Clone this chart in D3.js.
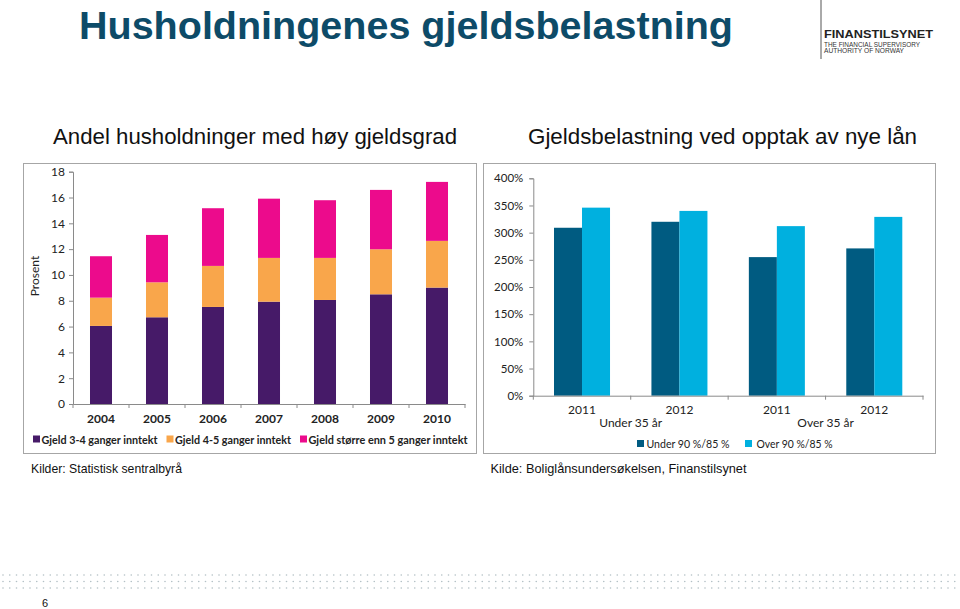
<!DOCTYPE html>
<html><head><meta charset="utf-8">
<script src="https://cdn.jsdelivr.net/npm/d3@7"></script>
<style>
html,body{margin:0;padding:0;background:#fff;}
svg{display:block;}
</style></head>
<body>
<svg id="chart" width="960" height="609"></svg>
<script>
// ---------- DATA ----------
const years = ["2004","2005","2006","2007","2008","2009","2010"];
const gjeld34 = [6.05, 6.72, 7.52, 7.93, 8.06, 8.5, 9.02];
const gjeld45 = [2.19, 2.71, 3.18, 3.39, 3.26, 3.49, 3.62];
const gjeld5p = [3.21, 3.67, 4.47, 4.59, 4.47, 4.6, 4.57];
const leftSeries = ["Gjeld 3-4 ganger inntekt","Gjeld 4-5 ganger inntekt","Gjeld større enn 5 ganger inntekt"];
const leftTicks = [0,2,4,6,8,10,12,14,16,18];

const rightCats = ["U2011","U2012","O2011","O2012"];
const rightYearLabels = ["2011","2012","2011","2012"];
const rightGroups = ["Under 35 år","Over 35 år"];
const under9085 = [309, 320, 255, 271];
const over9085 = [346, 340, 312, 329];
const rightSeries = ["Under 90 %/85 %","Over 90 %/85 %"];
const rightTicks = [0,50,100,150,200,250,300,350,400];

// ---------- SETUP ----------
const svg = d3.select("#chart");
const FONT = "Lato, 'Open Sans', sans-serif";
const ARIAL = "'Liberation Sans', Arial, sans-serif";
const axisCol = "#8a8a8a";
const leftColors = ["#461a68","#f9a64b","#ec0b8c"];
const rightColors = ["#005b81","#00b0df"];

// Title
svg.append("text").attr("x",79).attr("y",39).attr("font-family",ARIAL).attr("font-weight","bold")
  .attr("font-size",38).attr("fill","#0d4b68").attr("textLength",654).attr("lengthAdjust","spacingAndGlyphs")
  .text("Husholdningenes gjeldsbelastning");

// Logo
svg.append("line").attr("x1",821).attr("x2",821).attr("y1",0).attr("y2",59).attr("stroke","#555").attr("stroke-width",1);
svg.append("text").attr("x",824).attr("y",38).attr("font-family",ARIAL).attr("font-weight","bold").attr("font-size",10)
  .attr("fill","#222").attr("textLength",109).attr("lengthAdjust","spacingAndGlyphs").text("FINANSTILSYNET");
svg.append("text").attr("x",824).attr("y",46.5).attr("font-family",ARIAL).attr("font-size",6.6)
  .attr("fill","#333").attr("textLength",96).attr("lengthAdjust","spacingAndGlyphs").text("THE FINANCIAL SUPERVISORY");
svg.append("text").attr("x",824).attr("y",53).attr("font-family",ARIAL).attr("font-size",6.6)
  .attr("fill","#333").attr("textLength",80).attr("lengthAdjust","spacingAndGlyphs").text("AUTHORITY OF NORWAY");

// Subtitles
svg.append("text").attr("x",53).attr("y",143.5).attr("font-family",ARIAL)
  .attr("font-size",22).attr("fill","#111").attr("textLength",404).attr("lengthAdjust","spacingAndGlyphs")
  .text("Andel husholdninger med høy gjeldsgrad");
svg.append("text").attr("x",528).attr("y",143.5).attr("font-family",ARIAL)
  .attr("font-size",22).attr("fill","#111").attr("textLength",389).attr("lengthAdjust","spacingAndGlyphs")
  .text("Gjeldsbelastning ved opptak av nye lån");

// Frames
svg.append("rect").attr("x",23.5).attr("y",163.5).attr("width",453).attr("height",290).attr("fill","none").attr("stroke","#a6a6a6");
svg.append("rect").attr("x",483.5).attr("y",163.5).attr("width",452).attr("height",290).attr("fill","none").attr("stroke","#a6a6a6");

// ---------- LEFT CHART ----------
const xL = d3.scaleBand().domain(years).range([73,465]).paddingInner(0.607).paddingOuter(0.3035);
const yL = d3.scaleLinear().domain([0,18]).range([404,171.7]);
const stackData = years.map((y,i)=>({year:y, s0:gjeld34[i], s1:gjeld45[i], s2:gjeld5p[i]}));
const stack = d3.stack().keys(["s0","s1","s2"])(stackData);

const gL = svg.append("g");
const yAxL = gL.append("g").attr("transform","translate(73,0)")
  .call(d3.axisLeft(yL).tickValues(leftTicks).tickSize(4).tickPadding(4).tickFormat(d3.format("d")));
yAxL.selectAll("path,line").attr("stroke",axisCol);
yAxL.selectAll("text").attr("font-family",FONT).attr("font-size",12).attr("fill","#222");
gL.selectAll("g.layer").data(stack).enter().append("g").attr("fill",(d,i)=>leftColors[i])
  .selectAll("rect").data(d=>d).enter().append("rect")
  .attr("x",d=>xL(d.data.year)).attr("width",xL.bandwidth())
  .attr("y",d=>yL(d[1])).attr("height",d=>yL(d[0])-yL(d[1]));
const xAxL = gL.append("g").attr("transform","translate(0,404)")
  .call(d3.axisBottom(xL).tickSize(0).tickPadding(10).tickSizeOuter(0));
xAxL.select("path").attr("stroke",axisCol);
xAxL.selectAll("text").attr("font-family",FONT).attr("font-weight","bold").attr("font-size",12).attr("fill","#222");
gL.selectAll("line.bt").data(d3.range(years.length+1)).enter().append("line")
  .attr("x1",i=>xL.range()[0]+i*xL.step()).attr("x2",i=>xL.range()[0]+i*xL.step())
  .attr("y1",404).attr("y2",408).attr("stroke",axisCol);
gL.append("text").attr("transform","translate(39,276) rotate(-90)").attr("text-anchor","middle")
  .attr("font-family",FONT).attr("font-size",12).attr("fill","#222").text("Prosent");
const legL = [{x:33,tx:41.5,w:116},{x:166.5,tx:175,w:116},{x:300,tx:308.5,w:159}];
leftSeries.forEach((s,i)=>{
  svg.append("rect").attr("x",legL[i].x).attr("y",435.5).attr("width",7).attr("height",7).attr("fill",leftColors[i]);
  svg.append("text").attr("x",legL[i].tx).attr("y",443.5).attr("font-family",FONT).attr("font-weight","bold")
    .attr("font-size",12).attr("fill","#222").attr("textLength",legL[i].w).attr("lengthAdjust","spacingAndGlyphs").text(s);
});

// ---------- RIGHT CHART ----------
const x0 = d3.scaleBand().domain(rightCats).range([533.3,923]).paddingInner(0.425).paddingOuter(0.2125);
const x1 = d3.scaleBand().domain(["a","b"]).range([0,x0.bandwidth()]);
const yR = d3.scaleLinear().domain([0,400]).range([395.7,178.3]);
const gR = svg.append("g");
const yAxR = gR.append("g").attr("transform","translate(533.3,0)")
  .call(d3.axisLeft(yR).tickValues(rightTicks).tickSize(4).tickPadding(6).tickFormat(d=>d+"%"));
yAxR.selectAll("path,line").attr("stroke",axisCol);
yAxR.selectAll("text").attr("font-family",FONT).attr("font-size",11.5).attr("fill","#222");
const rData = rightCats.map((c,i)=>({cat:c, vals:[under9085[i], over9085[i]]}));
gR.selectAll("g.cat").data(rData).enter().append("g").attr("transform",d=>`translate(${x0(d.cat)},0)`)
  .selectAll("rect").data(d=>d.vals.map((v,j)=>({k:["a","b"][j], v, j}))).enter().append("rect")
  .attr("x",d=>x1(d.k)).attr("width",x1.bandwidth()).attr("y",d=>yR(d.v)).attr("height",d=>yR(0)-yR(d.v))
  .attr("fill",d=>rightColors[d.j]);
const xAxR = gR.append("g").attr("transform","translate(0,395.7)")
  .call(d3.axisBottom(x0).tickSize(0).tickPadding(10).tickSizeOuter(0).tickFormat((d,i)=>rightYearLabels[i]));
xAxR.select("path").attr("stroke",axisCol);
xAxR.selectAll("text").attr("font-family",FONT).attr("font-size",12).attr("fill","#222");
gR.selectAll("line.bt").data(d3.range(rightCats.length+1)).enter().append("line")
  .attr("x1",i=>x0.range()[0]+i*x0.step()).attr("x2",i=>x0.range()[0]+i*x0.step())
  .attr("y1",395.7).attr("y2",399.7).attr("stroke",axisCol);
rightGroups.forEach((g,i)=>{
  const cx = (x0(rightCats[2*i]) + x0(rightCats[2*i+1]) + x0.bandwidth())/2;
  gR.append("text").attr("x",cx).attr("y",426.5).attr("text-anchor","middle").attr("font-family",FONT)
    .attr("font-size",12).attr("fill","#222").text(g);
});
const legR = [{x:637,tx:646.5,w:83},{x:745,tx:756.5,w:76}];
rightSeries.forEach((s,i)=>{
  svg.append("rect").attr("x",legR[i].x).attr("y",440).attr("width",7).attr("height",7).attr("fill",rightColors[i]);
  svg.append("text").attr("x",legR[i].tx).attr("y",448).attr("font-family",FONT)
    .attr("font-size",12).attr("fill","#222").attr("textLength",legR[i].w).attr("lengthAdjust","spacingAndGlyphs").text(s);
});

// Sources
svg.append("text").attr("x",31).attr("y",473).attr("font-family",ARIAL).attr("font-size",13.5).attr("fill","#111")
  .attr("textLength",151).attr("lengthAdjust","spacingAndGlyphs").text("Kilder: Statistisk sentralbyrå");
svg.append("text").attr("x",490.5).attr("y",473).attr("font-family",ARIAL).attr("font-size",13.5).attr("fill","#111")
  .attr("textLength",256).attr("lengthAdjust","spacingAndGlyphs").text("Kilde: Boliglånsundersøkelsen, Finanstilsynet");

// Decorative dotted band
const dotRows = [575, 581.5, 588];
const dotXs = d3.range(3, 958, 6.75);
const dots = svg.append("g").attr("fill","#b3c0c5");
dotRows.forEach(y=>{
  dots.selectAll(null).data(dotXs).enter().append("circle").attr("cx",d=>d).attr("cy",y).attr("r",0.8);
});

// page number
svg.append("text").attr("x",42).attr("y",607).attr("font-family",ARIAL).attr("font-size",11).attr("fill","#111").text("6");
</script>
</body></html>
